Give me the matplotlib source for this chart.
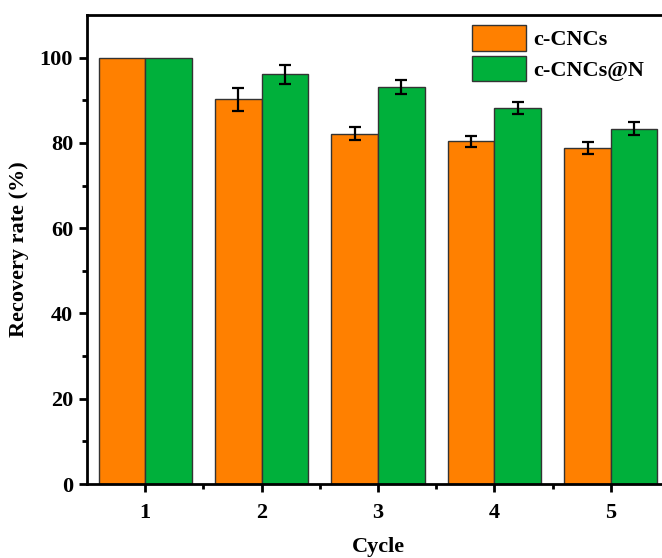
import matplotlib
matplotlib.use("Agg")
import matplotlib.pyplot as plt
import numpy as np

cycles = [1, 2, 3, 4, 5]
series_names = ["c-CNCs", "c-CNCs@N"]
cncs = [100.0, 90.2, 82.2, 80.4, 78.8]
cncs_err = [0.0, 2.6, 1.6, 1.3, 1.4]
cncs_n = [100.0, 96.1, 93.1, 88.2, 83.3]
cncs_n_err = [0.0, 2.2, 1.6, 1.5, 1.5]

plt.rcParams["font.family"] = ["Liberation Serif", "DejaVu Serif"]
plt.rcParams["font.weight"] = "bold"

fig = plt.figure(figsize=(6.62, 5.58), dpi=100)
ax = fig.add_axes([87 / 662, 74 / 558, 582 / 662, 469 / 558])

x = np.array(cycles, dtype=float)
w = 0.4
orange = "#FF8000"
green = "#00B03B"

ax.bar(x - w / 2, cncs, width=w, color=orange, edgecolor="#333333",
       linewidth=1.0, label=series_names[0], zorder=2)
ax.bar(x + w / 2, cncs_n, width=w, color=green, edgecolor="#333333",
       linewidth=1.0, label=series_names[1], zorder=2)

for xs, ys, es in [(x[1:] - w / 2, cncs[1:], cncs_err[1:]),
                   (x[1:] + w / 2, cncs_n[1:], cncs_n_err[1:])]:
    ax.errorbar(xs, ys, yerr=es, fmt="none", ecolor="black",
                elinewidth=1.6, capsize=4, capthick=1.6, zorder=3)

ax.set_xlim(0.5, 5.5)
ax.set_ylim(0, 110)
ax.set_xticks(cycles)
ax.set_xticks([1.5, 2.5, 3.5, 4.5], minor=True)
ax.set_yticks([0, 20, 40, 60, 80, 100])
ax.set_yticks([10, 30, 50, 70, 90], minor=True)

for s in ax.spines.values():
    s.set_linewidth(2.0)
ax.tick_params(which="major", direction="out", length=6, width=2,
               labelsize=16, pad=4)
ax.tick_params(which="minor", direction="out", length=3.5, width=2)
ax.tick_params(axis="x", which="major", pad=8)

ax.set_xlabel("Cycle", fontsize=16, fontweight="bold", labelpad=10)
ax.set_ylabel("Recovery rate (%)", fontsize=16, fontweight="bold", labelpad=8)

leg = ax.legend(loc="upper left", bbox_to_anchor=(472 / 662, 1 - 25 / 558),
                bbox_transform=fig.transFigure, frameon=False,
                fontsize=16, handlelength=2.45, handleheight=1.4,
                labelspacing=0.22, handletextpad=0.3, borderpad=0,
                borderaxespad=0)
for p in leg.get_patches():
    p.set_edgecolor("#333333")

fig.savefig("out.png", dpi=100)
